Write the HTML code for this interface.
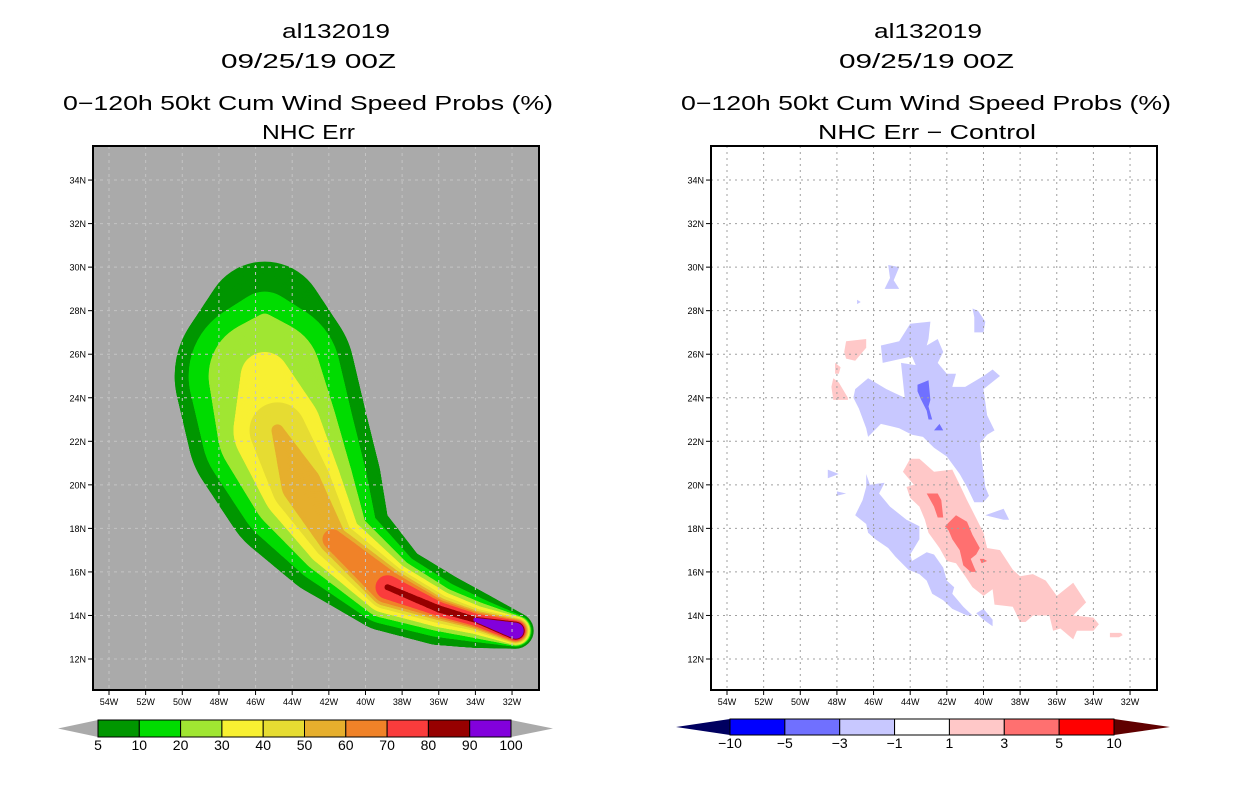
<!DOCTYPE html>
<html><head><meta charset="utf-8"><style>
body{margin:0;background:#fff;}
svg{display:block;font-family:"Liberation Sans",sans-serif;}
</style></head><body>
<svg id="chart" width="1236" height="800" viewBox="0 0 1236 800" xmlns="http://www.w3.org/2000/svg">
<rect width="1236" height="800" fill="#fff"/>
<g id="titles" font-size="20" fill="#000" text-anchor="middle">
 <text x="282" y="38" textLength="108" lengthAdjust="spacingAndGlyphs" text-anchor="start">al132019</text>
 <text x="221" y="68" textLength="175" lengthAdjust="spacingAndGlyphs" text-anchor="start">09/25/19 00Z</text>
 <text x="308" y="110" textLength="490" lengthAdjust="spacingAndGlyphs">0−120h 50kt Cum Wind Speed Probs (%)</text>
 <text x="262" y="139" textLength="93" lengthAdjust="spacingAndGlyphs" text-anchor="start">NHC Err</text>
 <text x="874" y="38" textLength="108" lengthAdjust="spacingAndGlyphs" text-anchor="start">al132019</text>
 <text x="839" y="68" textLength="175" lengthAdjust="spacingAndGlyphs" text-anchor="start">09/25/19 00Z</text>
 <text x="926" y="110" textLength="490" lengthAdjust="spacingAndGlyphs">0−120h 50kt Cum Wind Speed Probs (%)</text>
 <text x="818" y="139" textLength="218" lengthAdjust="spacingAndGlyphs" text-anchor="start">NHC Err − Control</text>
</g>
<defs>
 <clipPath id="clipL"><rect x="93" y="146" width="446" height="544"/></clipPath>
 <clipPath id="clipR"><rect x="711" y="146" width="446" height="544"/></clipPath>
</defs>
<rect x="93" y="146" width="446" height="544" fill="#aaaaaa"/>
<g id="leftFill" clip-path="url(#clipL)"></g>
<g id="leftGrid"></g>
<g id="rightFill" clip-path="url(#clipR)"></g>
<g id="rightGrid"></g>
<g id="axes"></g>
<g id="bars"></g>
</svg>
<script>
// ---- data ----
const lonTicks=[54,52,50,48,46,44,42,40,38,36,34,32];
const latTicks=[12,14,16,18,20,22,24,26,28,30,32,34];
const probLevels=[5,10,20,30,40,50,60,70,80,90,100];
const probColors=['#009600','#00dc00','#a0e632','#f8f032','#e6dc32','#e6af2d','#f08228','#fa3c3c','#960000','#8200dc'];
const diffLevels=[-10,-5,-3,-1,1,3,5,10];
const diffColors=['#0000ff','#7070ff','#c8c8ff','#ffffff','#ffc8c8','#ff7070','#ff0000'];
// storm swath spine (lonW, latN)
const spineLon=[45.5,45.5,44.8,43.5,41.8,38.8,36.0,34.0,31.8];
const spineLat=[27.5,25.0,22.5,20.0,17.5,15.3,14.3,13.8,13.3];
// swath half-widths (deg) per probability level along spine (0 = absent)
const r5 =[3.0,4.5,4.5,4.0,2.9,2.2,1.8,1.4,0.9];
const r10=[1.5,3.8,3.8,3.3,2.3,1.85,1.4,1.1,0.8];
const r20=[0.4,2.8,3.0,2.6,1.8,1.55,1.1,0.9,0.75];
const r30=[0,1.2,2.2,2.0,1.4,1.3,0.9,0.7,0.7];
const r40=[0,0,1.4,1.5,1.0,1.1,0.7,0.55,0.65];
const r50=[0,0,0.3,1.0,0.7,0.95,0.55,0.45,0.6];
const r60=[0,0,0,0,0.5,0.8,0.45,0.38,0.55];
const r70=[0,0,0,0,0,0.6,0.35,0.3,0.5];
const r80=[0,0,0,0,0,0.15,0.18,0.15,0.45];
const r90=[0,0,0,0,0,0,0,0.1,0.4];
// difference regions: [lonW,lat] polygons
const lightBlue1=[[47.0,24.4],[46.3,24.9],[45.3,24.4],[44.3,24.0],[44.5,25.6],[43.7,25.5],[43.9,25.9],[45.5,25.6],[45.6,26.4],[44.6,26.6],[44.0,27.4],[42.9,27.5],[43.0,26.7],[43.1,26.4],[42.5,26.7],[42.2,26.1],[42.5,25.6],[42.0,25.1],[41.5,25.1],[41.7,24.5],[41.0,24.5],[40.0,25.0],[39.5,25.3],[39.1,25.0],[40.0,24.4],[39.8,23.2],[39.4,22.5],[39.8,22.3],[40.2,21.9],[39.9,19.9],[39.7,19.5],[40.0,19.2],[40.5,19.2],[40.9,19.9],[41.3,20.5],[42.0,21.3],[42.7,21.7],[43.3,22.2],[43.9,22.3],[44.6,22.6],[45.6,22.8],[46.3,22.2],[46.4,22.6],[46.8,23.5],[47.1,24.0]];
const lightBlue2=[[45.2,30.1],[44.6,30.0],[44.9,29.4],[44.6,29.0],[45.4,29.0],[45.1,29.5]];
const lightBlue3=[[40.6,28.1],[40.3,28.0],[39.9,27.5],[40.0,27.0],[40.5,27.0],[40.5,27.7]];
const lightBlue4=[[46.4,20.5],[46.2,20.0],[45.4,20.1],[45.7,19.6],[45.1,19.0],[44.2,18.4],[43.5,18.1],[43.5,17.5],[44.0,16.8],[43.9,16.5],[43.1,16.9],[42.7,16.8],[42.2,16.2],[42.0,15.6],[41.6,15.3],[41.7,15.0],[41.1,14.4],[40.6,14.0],[40.9,14.0],[41.7,14.3],[42.2,14.7],[42.8,15.0],[43.1,15.6],[43.5,15.9],[44.1,16.1],[44.8,16.7],[45.2,17.1],[45.9,17.5],[46.3,17.8],[46.4,18.2],[47.0,18.6],[46.6,19.3],[46.4,19.9]];
const lightBlue5=[[40.4,14.1],[40.0,14.3],[39.5,13.8],[39.5,13.5],[40.0,13.8]];
const lightBlue6=[[39.9,18.6],[38.9,18.9],[38.6,18.4],[38.9,18.4]];
const lightBlue7=[[48.5,20.7],[47.9,20.5],[48.5,20.3]];
const lightBlue8=[[48.0,19.7],[47.5,19.6],[48.0,19.5]];
const lightBlue9=[[46.9,28.5],[46.7,28.4],[46.9,28.3]];
const midBlue1=[[43.6,24.6],[43.0,24.8],[42.9,23.9],[43.0,23.6],[42.8,23.0],[43.0,23.0],[43.1,23.4],[43.4,23.9],[43.6,24.3]];
const midBlue2=[[42.7,22.5],[42.4,22.8],[42.2,22.5]];
const lightRed1=[[44.4,20.6],[44.0,21.2],[43.5,21.2],[42.7,20.6],[41.7,20.7],[41.3,20.0],[40.9,19.3],[40.0,17.8],[39.8,17.1],[39.1,17.0],[38.4,16.1],[38.0,15.8],[37.3,15.9],[36.6,15.6],[36.0,14.9],[35.1,15.5],[34.4,14.6],[35.1,14.0],[34.0,13.9],[33.7,13.6],[34.0,13.3],[34.9,13.3],[35.1,12.9],[35.8,13.4],[36.2,13.3],[36.4,14.0],[37.3,14.0],[37.7,13.7],[38.0,13.7],[38.4,14.4],[39.4,14.5],[39.5,15.2],[40.0,14.9],[40.6,15.3],[41.0,15.8],[41.5,16.4],[42.0,16.5],[42.4,17.1],[43.0,17.8],[43.2,18.4],[43.5,19.0],[44.0,19.4],[44.2,19.9],[43.8,20.0]];
const lightRed2=[[47.5,26.6],[46.4,26.7],[46.4,26.3],[47.0,25.7],[47.5,25.8],[47.6,26.1]];
const lightRed3=[[48.1,25.6],[47.8,25.4],[47.9,25.1],[48.1,25.1]];
const lightRed4=[[48.2,24.9],[47.9,24.7],[47.4,24.0],[47.4,23.9],[48.2,23.9],[48.3,24.5]];
const lightRed5=[[33.1,13.2],[32.5,13.2],[32.4,13.1],[32.6,13.0],[33.1,13.0]];
const midRed1=[[43.1,19.6],[42.5,19.6],[42.3,19.3],[42.2,18.5],[42.5,18.5],[42.7,19.0]];
const midRed2=[[42.1,18.1],[41.5,18.6],[40.9,18.3],[40.6,17.7],[40.2,17.1],[40.4,16.8],[40.7,16.6],[40.5,16.2],[40.4,16.0],[40.7,16.0],[41.1,16.3],[41.3,17.0],[41.7,17.5],[41.9,17.9]];
const midRed3=[[40.2,16.6],[40.0,16.6],[39.8,16.5],[40.1,16.4]];

// ---- axes functions ----
const NS='http://www.w3.org/2000/svg';
const X0L=109, PXLON=18.32, Y12=659, PXLAT=21.77, RX=618;
function xL(lon){return X0L+(54-lon)*PXLON;}
function yL(lat){return Y12-(lat-12)*PXLAT;}
function mk(tag,attrs,parent){const e=document.createElementNS(NS,tag);for(const k in attrs)e.setAttribute(k,attrs[k]);parent.appendChild(e);return e;}

// ---- left swath ----
const radii=[r5,r10,r20,r30,r40,r50,r60,r70,r80,r90];
const lf=document.getElementById('leftFill');
radii.forEach((rr,k)=>{
  const g=mk('g',{fill:probColors[k]},lf);
  
  
  for(let i=0;i<spineLon.length-1;i++){
    if(rr[i]<=0||rr[i+1]<=0)continue;
    const steps=30;
    for(let s=0;s<=steps;s++){
      const t=s/steps;
      const lon=spineLon[i]+(spineLon[i+1]-spineLon[i])*t;
      const lat=spineLat[i]+(spineLat[i+1]-spineLat[i])*t;
      const r=rr[i]+(rr[i+1]-rr[i])*t;
      mk('circle',{cx:xL(lon).toFixed(1),cy:yL(lat).toFixed(1),r:(r*20).toFixed(1)},g);
    }
  }
});

// ---- right polygons ----
const rf=document.getElementById('rightFill');
function poly(pts,color,name){
  const p=mk('polygon',{points:pts.map(q=>(xL(q[0])+RX).toFixed(1)+','+yL(q[1]).toFixed(1)).join(' '),fill:color},rf);
  
  
}
[lightBlue1,lightBlue2,lightBlue3,lightBlue4,lightBlue5,lightBlue6,lightBlue7,lightBlue8,lightBlue9].forEach((p,i)=>poly(p,diffColors[2],'diff-neg-small-'+(i+1)));
[midBlue1,midBlue2].forEach((p,i)=>poly(p,diffColors[1],'diff-neg-mid-'+(i+1)));
[lightRed1,lightRed2,lightRed3,lightRed4,lightRed5].forEach((p,i)=>poly(p,diffColors[4],'diff-pos-small-'+(i+1)));
[midRed1,midRed2,midRed3].forEach((p,i)=>poly(p,diffColors[5],'diff-pos-mid-'+(i+1)));

// ---- grids and axes ----
function grid(gid,off,color,dash){
  const g=document.getElementById(gid);
  lonTicks.forEach(l=>{const x=xL(l)+off;
    const ln=mk('line',{x1:x,y1:146,x2:x,y2:690,stroke:color,'stroke-width':1,'stroke-dasharray':dash},g);
    
    });
  latTicks.forEach(l=>{const y=yL(l);
    const ln=mk('line',{x1:93+off,y1:y,x2:539+off,y2:y,stroke:color,'stroke-width':1,'stroke-dasharray':dash},g);
    
    });
}
grid('leftGrid',0,'#c4c4c4','3,4');
grid('rightGrid',RX,'#a0a0a0','2,4');
const ax=document.getElementById('axes');
[0,RX].forEach(off=>{
  const fr=mk('rect',{x:93+off,y:146,width:446,height:544,fill:'none',stroke:'#000','stroke-width':2},ax);
  
  
  lonTicks.forEach(l=>{const x=xL(l)+off;
    mk('line',{x1:x,y1:690,x2:x,y2:695,stroke:'#000'},ax);
    const t=mk('text',{x:x,y:705,'font-size':9,'text-anchor':'middle'},ax);t.textContent=l+'W';
    
    });
  latTicks.forEach(l=>{const y=yL(l);
    mk('line',{x1:88+off,y1:y,x2:93+off,y2:y,stroke:'#000'},ax);
    const t=mk('text',{x:86+off,y:y+3.5,'font-size':9,'text-anchor':'end'},ax);t.textContent=l+'N';
    
    });
});

// ---- colorbars ----
const bars=document.getElementById('bars');
function colorbar(x0,x1,y0,y1,tipL,tipR,cols,labels,tipColL,tipColR,name){
  const g=mk('g',{},bars);
  
  
  const ym=(y0+y1)/2;
  mk('polygon',{points:`${x0},${y0} ${tipL},${ym} ${x0},${y1}`,fill:tipColL},g);
  mk('polygon',{points:`${x1},${y0} ${tipR},${ym} ${x1},${y1}`,fill:tipColR},g);
  const w=(x1-x0)/cols.length;
  cols.forEach((c,i)=>{mk('rect',{x:x0+i*w,y:y0,width:w,height:y1-y0,fill:c,stroke:'#000','stroke-width':1},g);});
  labels.forEach((lb,i)=>{const t=mk('text',{x:x0+i*w,y:y1+13,'font-size':14,'text-anchor':'middle'},g);t.textContent=String(lb).replace('-','−');
    
    });
}
colorbar(98,511,720,737,58,553,probColors,probLevels,'#aaaaaa','#aaaaaa','left-colorbar');
colorbar(730,1114,719,735,676,1170,diffColors,diffLevels,'#000060','#600000','right-colorbar');
</script>
</body></html>
